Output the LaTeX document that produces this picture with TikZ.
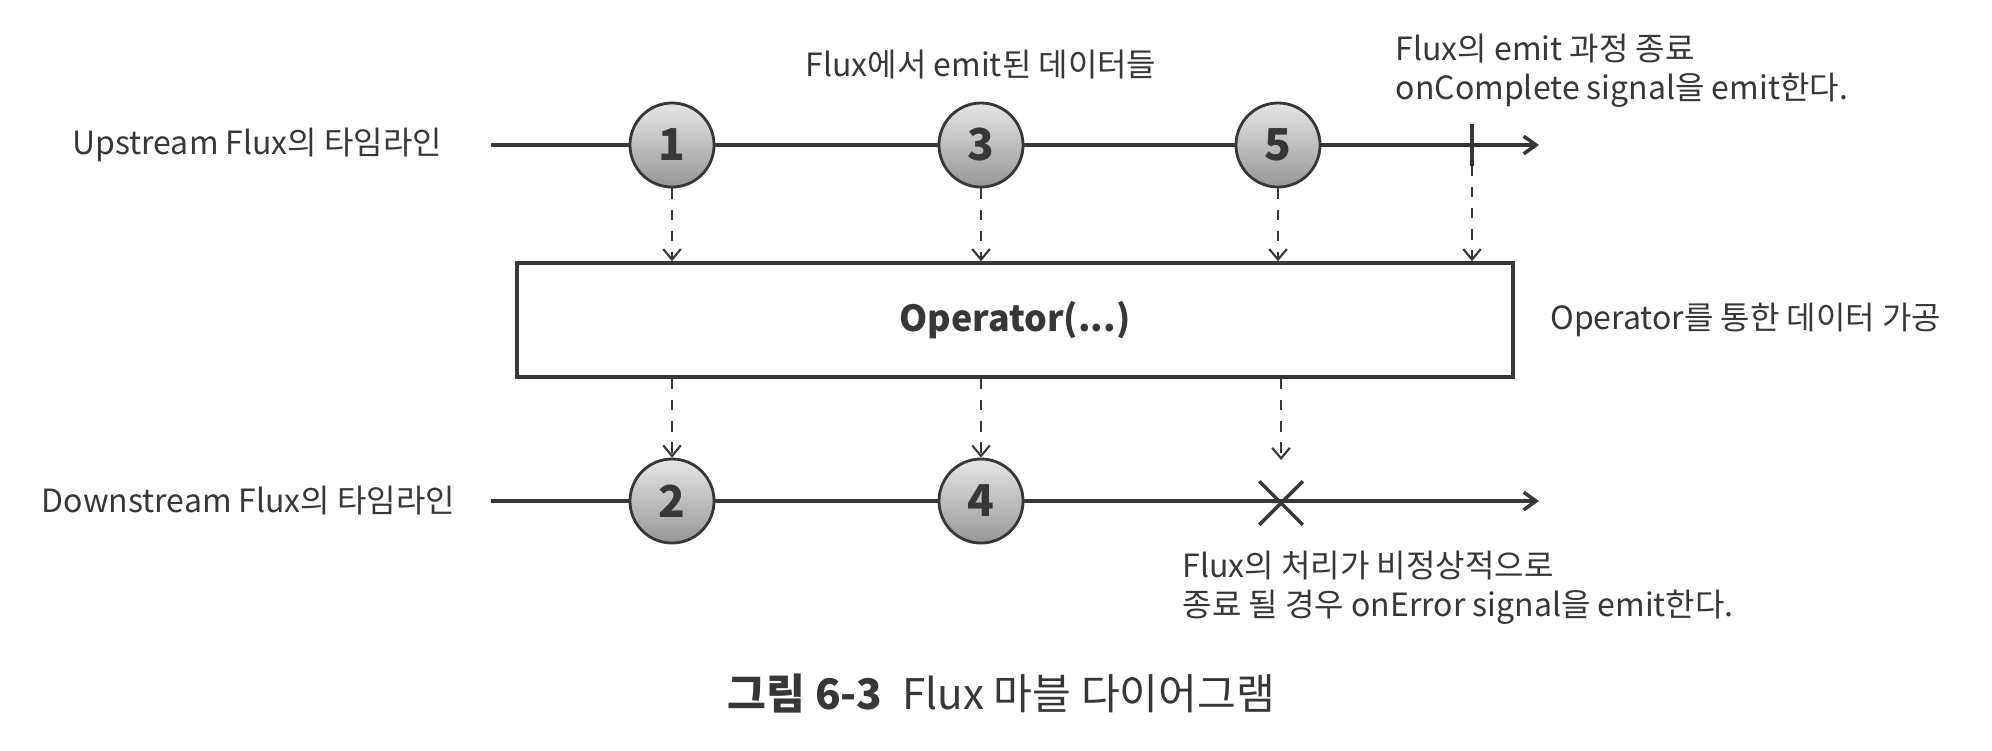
\documentclass[tikz,border=0pt]{standalone}
\usepackage{fontspec}
\setmainfont{Noto Sans CJK KR}
\usetikzlibrary{arrows.meta, positioning, shapes.misc}
\definecolor{ink}{RGB}{55,55,55}
\definecolor{balltop}{RGB}{230,230,230}
\definecolor{ballbottom}{RGB}{150,150,150}

\begin{document}
\begin{tikzpicture}[x=0.01cm, y=-0.01cm]
    \useasboundingbox (0,0) rectangle (1992,750);
    % Define styles
    \tikzstyle{data} = [circle, draw=ink, line width=0.8pt,
                        top color=balltop, bottom color=ballbottom,
                        minimum size=0.84cm, inner sep=0pt, text=ink,
                        font=\fontsize{12.5}{12.5}\selectfont\bfseries]
    \tikzstyle{label} = [font=\fontsize{9.1}{11}\selectfont, text=ink,
                         inner sep=0pt, align=left]
    \tikzstyle{line} = [ink, line width=1pt]
    \tikzstyle{flow} = [ink, line width=0.6pt, dashed,
                        -{Straight Barb[length=3pt, width=5pt]}]
    \tikzstyle{timeline} = [line, -{Straight Barb[length=3.5pt, width=5pt]}]

    % Timelines
    \coordinate (ustart) at (491,145);
    \coordinate (uend) at (1539,145);
    \coordinate (dstart) at (491,501);
    \coordinate (dend) at (1539,501);
    \draw[timeline] (ustart) -- (uend);
    \draw[timeline] (dstart) -- (dend);

    % Create blocks
    \node[data] (up1) at (672,145) {1};
    \node[data] (up3) at (981,145) {3};
    \node[data] (up5) at (1278,145) {5};
    \node[inner sep=0pt, minimum height=0.4cm, minimum width=0pt] (done) at (1472,145) {};
    \draw[line] (done.north) -- (done.south);

    \node[rectangle, draw=ink, line width=1pt, minimum width=9.95cm,
          minimum height=1.14cm, text=ink,
          font=\fontsize{10.2}{10.2}\selectfont\bfseries] (op) at (1015,320) {Operator(...)};

    \node[data] (down2) at (672,501) {2};
    \node[data] (down4) at (981,501) {4};
    \node[cross out, draw=ink, line width=1pt, minimum size=0.4cm] (err) at (1281,503) {};
    \coordinate (errtop) at (1281,460);

    % Labels
    \node[label, left=0.48cm of ustart] (uplabel) {Upstream Flux의 타임라인};
    \node[label, left=0.35cm of dstart] (downlabel) {Downstream Flux의 타임라인};
    \node[label, above=0.22cm of up3] (emitlabel) {Flux에서 emit된 데이터들};
    \node[label, anchor=west] (donelabel) at (1395,71) {Flux의 emit 과정 종료\\onComplete signal을 emit한다.};
    \node[label, right=0.35cm of op] (oplabel) {Operator를 통한 데이터 가공};
    \node[label, anchor=west] (errlabel) at (1182,588) {Flux의 처리가 비정상적으로\\종료 될 경우 onError signal을 emit한다.};
    \node[font=\fontsize{12}{12}\selectfont, text=ink, inner sep=0pt, anchor=west] (caption) at (727,693)
        {\textbf{그림 6-3}\hspace{0.2cm}Flux 마블 다이어그램};

    % Draw arrows
    \draw[flow] (up1.south) -- (up1.south |- op.north);
    \draw[flow] (up3.south) -- (up3.south |- op.north);
    \draw[flow] (up5.south) -- (up5.south |- op.north);
    \draw[flow] (done.south) -- (done.south |- op.north);
    \draw[flow] (op.south -| down2) -- (down2.north);
    \draw[flow] (op.south -| down4) -- (down4.north);
    \draw[flow] (op.south -| errtop) -- (errtop);
\end{tikzpicture}
\end{document}
